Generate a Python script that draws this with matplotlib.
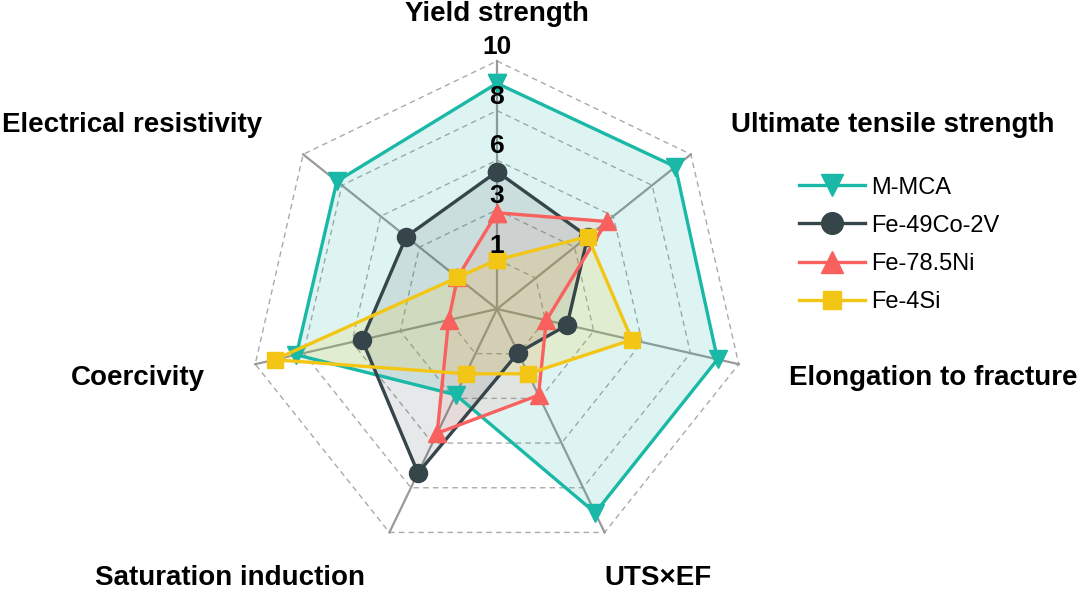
import numpy as np
import matplotlib
matplotlib.use('Agg')
import matplotlib.pyplot as plt

plt.rcParams['font.family'] = ['Liberation Sans', 'DejaVu Sans']

# 轴名称（顺时针，从顶部开始）
labels = ['Yield strength', 'Ultimate tensile strength', 'Elongation to fracture',
          'UTS×EF', 'Saturation induction', 'Coercivity', 'Electrical resistivity']
ring_levels = [1, 2, 3, 4, 5]
ring_labels = ['1', '3', '6', '8', '10']

# 各材料的数值（按网格圈数读取）
m_mca = [4.55, 4.6, 4.56, 4.56, 1.92, 4.15, 4.13]
fe_co = [2.77, 2.34, 1.45, 0.98, 3.67, 2.79, 2.34]
fe_ni = [1.94, 2.83, 1.02, 1.93, 2.78, 1.0, 1.02]
fe_si = [0.99, 2.34, 2.79, 1.45, 1.45, 4.6, 1.02]

series = [('M-MCA', m_mca, '#1ab8a6', 'v'),
          ('Fe-49Co-2V', fe_co, '#36454a', 'o'),
          ('Fe-78.5Ni', fe_ni, '#f8615e', '^'),
          ('Fe-4Si', fe_si, '#f3c515', 's')]
fills = {'M-MCA': ('#1ab8a6', 0.14), 'Fe-49Co-2V': ('#36454a', 0.12),
         'Fe-78.5Ni': ('#f8615e', 0.10), 'Fe-4Si': ('#f3c515', 0.15)}

n = len(labels)
ang = np.pi / 2 - np.arange(n) * 2 * np.pi / n


def xy(vals):
    v = np.asarray(vals, dtype=float)
    x = v * np.cos(ang)
    y = v * np.sin(ang)
    return np.append(x, x[0]), np.append(y, y[0])


fig = plt.figure(figsize=(10.8, 5.91), dpi=100)
ax = fig.add_axes([0, 0, 1, 1])
unit = 49.6
ax.set_xlim(-497 / unit, (1080 - 497) / unit)
ax.set_ylim(-282 / unit, 309 / unit)
ax.set_aspect('equal')
ax.axis('off')

# 网格
for lv in ring_levels:
    gx, gy = xy([lv] * n)
    ax.plot(gx, gy, ls=(0, (4, 3)), color='#aaaaaa', lw=1.0, zorder=1)
for a in ang:
    ax.plot([0, 5 * np.cos(a)], [0, 5 * np.sin(a)], color='#999999', lw=1.6, zorder=1)

for name, vals, col, mk in series:
    px, py = xy(vals)
    fc, al = fills[name]
    ax.fill(px, py, color=fc, alpha=al, lw=0, zorder=2)
for name, vals, col, mk in series:
    px, py = xy(vals)
    ax.plot(px, py, color=col, lw=2.4, marker=mk, markersize=13 if mk != 's' else 11,
            label=name, zorder=3)

# 刻度标签
for lv, t in zip(ring_levels, ring_labels):
    ax.text(0, lv + 0.28, t, ha='center', va='center', fontsize=19,
            fontweight='bold', zorder=5)

# 轴标签位置
lab_pos = [(0, 5.95), (7.98, 3.71), (8.79, -1.39), (3.25, -5.43),
           (-5.38, -5.43), (-7.24, -1.39), (-7.36, 3.71)]
for t, (lx, ly) in zip(labels, lab_pos):
    ax.text(lx, ly, t, ha='center', va='center', fontsize=20, fontweight='bold')

ax.legend(loc='upper left', bbox_to_anchor=(0.72, 0.737), frameon=False,
          fontsize=17, handlelength=2.8, labelspacing=0.68, handletextpad=0.25,
          markerscale=1.2)

fig.savefig('out.png', dpi=100)
